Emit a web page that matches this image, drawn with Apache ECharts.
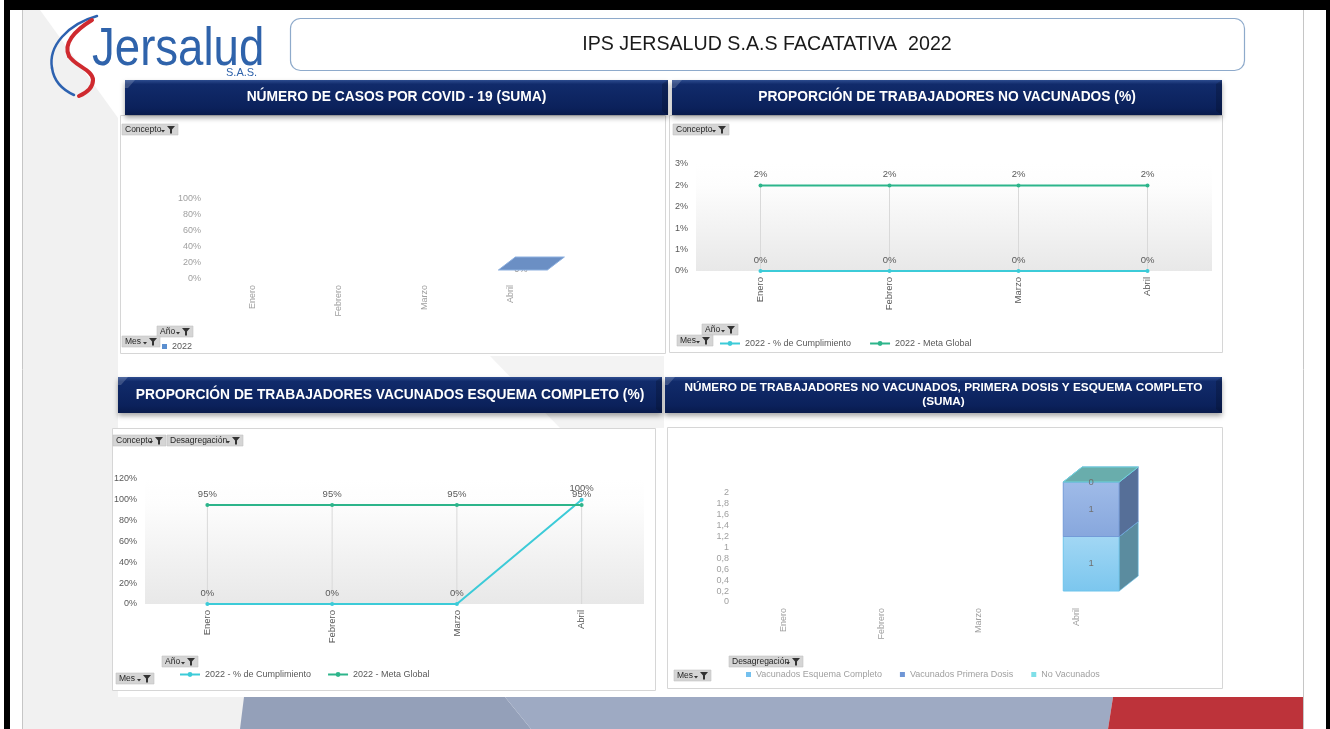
<!DOCTYPE html>
<html>
<head>
<meta charset="utf-8">
<script src="https://cdn.jsdelivr.net/npm/echarts/dist/echarts.min.js"></script>
<style>
  html, body { margin: 0; padding: 0; background: #ffffff; }
  #dash { width: 1330px; height: 729px; }
</style>
</head>
<body>
<div id="dash"></div>
<script>
// ---- data ----
const months = ['Enero', 'Febrero', 'Marzo', 'Abril'];

// Número de casos por COVID-19 (suma), serie 2022
const casosCovid = [null, null, null, 0];

// Proporción de trabajadores no vacunados (%)
const noVacCumplimiento = [0, 0, 0, 0];
const noVacMeta = [0.02, 0.02, 0.02, 0.02];

// Proporción de trabajadores vacunados esquema completo (%)
const esqCumplimiento = [0, 0, 0, 1];
const esqMeta = [0.95, 0.95, 0.95, 0.95];

// Número de trabajadores por desagregación (suma)
const vacEsquemaCompleto = [null, null, null, 1];
const vacPrimeraDosis = [null, null, null, 1];
const noVacunados = [null, null, null, 0];

const NAME_CUMP = '2022 - % de Cumplimiento';
const NAME_META = '2022 - Meta Global';
const NAME_ESQ = 'Vacunados Esquema Completo';
const NAME_PRIM = 'Vacunados Primera Dosis';
const NAME_NOVAC = 'No Vacunados';

// ---- styles ----
const FONT = '"Liberation Sans", Arial, sans-serif';
const C_CUMP = '#3ccbd8';
const C_META = '#2db58b';
const GREY_TXT = '#595959';
const LIGHT_TXT = '#a0a0a0';

const chart = echarts.init(document.getElementById('dash'), null, { renderer: 'canvas' });

const pct = v => Math.round(Math.round(v * 1000) / 10) + '%';
const dec = v => String(Math.round(v * 10) / 10).replace('.', ',');

const plotFill = new echarts.graphic.LinearGradient(0, 0, 0, 1, [
  { offset: 0, color: '#ffffff' },
  { offset: 0.2, color: '#fdfdfd' },
  { offset: 1, color: '#e8e8e8' }
]);

function catAxis(gridIndex, color, size) {
  return {
    type: 'category', gridIndex, data: months, boundaryGap: true,
    axisLine: { show: false }, axisTick: { show: false }, splitLine: { show: false },
    axisLabel: { rotate: 90, margin: 6, interval: 0, color, fontSize: size, fontFamily: FONT }
  };
}
function valAxis(gridIndex, max, interval, fmt, color, margin) {
  return {
    type: 'value', gridIndex, min: 0, max, interval,
    axisLine: { show: false }, axisTick: { show: false }, splitLine: { show: false },
    axisLabel: { formatter: fmt, color, fontSize: 9, fontFamily: FONT, margin }
  };
}

// vertical drop lines from the highest point of each month to the axis
function dropLineItem(params, api) {
  const top = api.coord([api.value(0), api.value(1)]);
  const bot = api.coord([api.value(0), 0]);
  return {
    type: 'line',
    shape: { x1: top[0], y1: top[1], x2: bot[0], y2: bot[1] },
    style: { stroke: '#d9d9d9', lineWidth: 1 }
  };
}

// 3D column segment: front face, side face and top face
function column3d(spec) {
  return function (params, api) {
    const i = api.value(0), v = api.value(1), base = api.value(2);
    const p0 = api.coord([i, base]);
    const p1 = api.coord([i, base + v]);
    const cx = p0[0] + spec.shiftX, hw = spec.width / 2;
    const yb = p0[1] - spec.lift, yt = p1[1] - spec.lift;
    const dx = spec.dx, dy = spec.dy;
    const kids = [];
    if (spec.labelBehind) {
      kids.push({ type: 'text', x: cx - 2, y: yb, style: { text: spec.fmt(v), font: '9px ' + FONT, fill: '#8c8c8c', align: 'center', verticalAlign: 'middle' } });
    }
    if (yb - yt > 0.5) {
      kids.push({
        type: 'rect', shape: { x: cx - hw, y: yt, width: 2 * hw, height: yb - yt },
        style: { fill: new echarts.graphic.LinearGradient(0, 0, 0, 1, [
          { offset: 0, color: spec.front[0] }, { offset: 1, color: spec.front[1] }]),
          stroke: spec.edge, lineWidth: 1 }
      });
      kids.push({
        type: 'polygon',
        shape: { points: [[cx + hw, yt], [cx + hw + dx, yt + dy], [cx + hw + dx, yb + dy], [cx + hw, yb]] },
        style: { fill: spec.side, stroke: spec.edge, lineWidth: 0.6 }
      });
    }
    kids.push({
      type: 'polygon',
      shape: { points: [[cx - hw, yt], [cx + hw, yt], [cx + hw + dx, yt + dy], [cx - hw + dx, yt + dy]] },
      style: { fill: spec.top, stroke: spec.edge, lineWidth: 1 }
    });
    if (!spec.labelBehind) {
      kids.push({ type: 'text', x: cx, y: (yb - yt > 0.5) ? (yb + yt) / 2 : yt,
        style: { text: spec.fmt(v), font: '9.5px ' + FONT, fill: '#707070', align: 'center', verticalAlign: 'middle' } });
    }
    return { type: 'group', children: kids };
  };
}

function stackData(vals, bases) {
  const out = [];
  vals.forEach((v, i) => { if (v !== null) out.push([i, v, bases[i]]); });
  return out;
}
const baseEsq = months.map(() => 0);
const basePrim = months.map((m, i) => vacEsquemaCompleto[i] || 0);
const baseNoVac = months.map((m, i) => (vacEsquemaCompleto[i] || 0) + (vacPrimeraDosis[i] || 0));

function lineSeries(name, data, color, axisIdx) {
  return {
    type: 'line', name, data, xAxisIndex: axisIdx, yAxisIndex: axisIdx, z: 3,
    color, symbol: 'circle', symbolSize: 4,
    lineStyle: { color, width: 2 }, itemStyle: { color },
    label: { show: true, position: 'top', distance: 4, formatter: p => pct(p.value),
      color: GREY_TXT, fontSize: 9.5, fontFamily: FONT },
    emphasis: { disabled: true }, animation: false
  };
}

// ---- static page elements ----
function rect(x, y, w, h, fill, extra) {
  return Object.assign({ type: 'rect', shape: { x, y, width: w, height: h }, style: { fill } }, extra || {});
}
function poly(points, fill, z) {
  return { type: 'polygon', shape: { points }, style: { fill }, z: z === undefined ? -20 : z, silent: true };
}
function txt(x, y, text, font, fill, align, extra) {
  return Object.assign({ type: 'text', x, y, z: 20,
    style: { text, font, fill, align: align || 'left', verticalAlign: 'middle' } }, extra || {});
}
function curve(p, color, width) {
  return { type: 'bezierCurve', z: 20,
    shape: { x1: p[0], y1: p[1], cpx1: p[2], cpy1: p[3], cpx2: p[4], cpy2: p[5], x2: p[6], y2: p[7] },
    style: { fill: null, stroke: color, lineWidth: width, lineCap: 'round' } };
}
function header(x, y, w, h, lines, size) {
  const kids = [
    { type: 'rect', shape: { x: 0, y: 0, width: w, height: h },
      style: { fill: new echarts.graphic.LinearGradient(0, 0, 0, 1, [
        { offset: 0, color: '#2d4c8f' }, { offset: 0.12, color: '#112b6b' },
        { offset: 0.8, color: '#0b215b' }, { offset: 1, color: '#081a4b' }]),
        shadowBlur: 5, shadowColor: 'rgba(0,0,0,0.35)', shadowOffsetY: 3 } },
    { type: 'polygon', shape: { points: [[0, 0], [10, 0], [3, 8], [0, 8]] }, style: { fill: 'rgba(255,255,255,0.18)' } },
    { type: 'polygon', shape: { points: [[w - 6, 4], [w, 0], [w, h], [w - 6, h - 4]] }, style: { fill: 'rgba(0,0,0,0.18)' } }
  ];
  const lh = size + 2;
  lines.forEach((t, k) => {
    kids.push({ type: 'text', x: w / 2, y: h / 2 + (k - (lines.length - 1) / 2) * lh,
      style: { text: t, font: 'bold ' + size + 'px ' + FONT, fill: '#ffffff', align: 'center', verticalAlign: 'middle' } });
  });
  return { type: 'group', x, y, z: 15, children: kids };
}
function filterBtn(x, y, w, label) {
  return {
    type: 'group', x, y, z: 20, children: [
      { type: 'rect', shape: { x: 0, y: 0, width: w, height: 11 }, style: { fill: '#d5d5d5', stroke: '#c2c2c2', lineWidth: 0.6 } },
      { type: 'text', x: 3, y: 5.8, style: { text: label, font: '8.5px ' + FONT, fill: '#262626', verticalAlign: 'middle' } },
      { type: 'polygon', shape: { points: [[w - 17, 6], [w - 13, 6], [w - 15, 8.5]] }, style: { fill: '#333' } },
      { type: 'polygon', shape: { points: [[w - 11, 2], [w - 3, 2], [w - 6, 5.5], [w - 6, 9.5], [w - 8, 9.5], [w - 8, 5.5]] }, style: { fill: '#333' } }
    ]
  };
}
function panel(x, y, w, h) {
  return rect(x, y, w, h, '#ffffff', { z: -10, style: { fill: '#ffffff', stroke: '#d6d6d6', lineWidth: 1 }, silent: true });
}

const graphics = [
  // frame
  rect(0, 0, 1330, 729, '#ffffff', { z: -40 }),
  rect(4, 0, 6, 729, '#000000', { z: -30 }),
  rect(4, 0, 1326, 10, '#000000', { z: -30 }),
  rect(1326, 0, 4, 729, '#000000', { z: -30 }),
  // slide background
  rect(23, 10, 1280, 719, '#ffffff', { z: -30 }),
  poly([[23, 10], [40, 10], [118, 118], [118, 697], [23, 697]], '#f1f1f1'),
  poly([[23, 697], [245, 697], [241, 729], [23, 729]], '#f1f1f1'),
  poly([[490, 356], [664, 356], [664, 428], [560, 428]], '#f3f3f3'),
  { type: 'line', shape: { x1: 22.5, y1: 10, x2: 22.5, y2: 729 }, style: { stroke: '#c6c6c6', lineWidth: 1 }, z: -15 },
  { type: 'line', shape: { x1: 1303.5, y1: 10, x2: 1303.5, y2: 729 }, style: { stroke: '#c6c6c6', lineWidth: 1 }, z: -15 },
  // bottom band
  poly([[244, 697], [505, 697], [531, 729], [240, 729]], '#94a0b9', -5),
  poly([[505, 697], [1113, 697], [1108, 729], [531, 729]], '#9eaac3', -5),
  poly([[1113, 697], [1303, 697], [1303, 729], [1108, 729]], '#bd333a', -5),

  // panels
  panel(120.5, 115.5, 545, 238),
  panel(669.5, 115.5, 553, 237),
  panel(112.5, 428.5, 543, 262),
  panel(667.5, 427.5, 555, 261),

  // logo
  curve([97, 16, 68, 24, 48, 46, 52, 68], '#2d62b0', 2.5),
  curve([52, 68, 54, 82, 63, 90, 74, 95], '#2d62b0', 2.5),
  curve([92, 20, 74, 31, 63, 44, 69, 56], '#cf2a2f', 4),
  curve([69, 56, 75, 66, 93, 70, 93, 80], '#cf2a2f', 4),
  curve([93, 80, 93, 88, 86, 93, 79, 96], '#cf2a2f', 4),
  txt(92, 50, 'Jersalud', '53px ' + FONT, '#2f63ab', 'left', { scaleX: 0.86 }),
  txt(226, 73, 'S.A.S.', '11px ' + FONT, '#2f63ab', 'left'),

  // title box
  { type: 'rect', z: 10, shape: { x: 290.5, y: 18.5, width: 954, height: 52, r: 10 },
    style: { fill: '#ffffff', stroke: '#8eaacb', lineWidth: 1.2 } },
  txt(767, 44, 'IPS JERSALUD S.A.S FACATATIVA  2022', '21px ' + FONT, '#1a1a1a', 'center', { scaleX: 0.935 }),

  // section headers
  header(125, 80, 543, 35, ['NÚMERO DE CASOS POR COVID - 19 (SUMA)'], 13.8),
  header(672, 80, 550, 35, ['PROPORCIÓN DE TRABAJADORES NO VACUNADOS (%)'], 13.8),
  header(118, 377, 544, 36, ['PROPORCIÓN DE TRABAJADORES VACUNADOS ESQUEMA COMPLETO (%)'], 13.8),
  header(665, 377, 557, 36, ['NÚMERO DE TRABAJADORES NO VACUNADOS, PRIMERA DOSIS Y ESQUEMA COMPLETO', '(SUMA)'], 11.8),

  // pivot filter buttons
  filterBtn(122, 124, 56, 'Concepto'),
  filterBtn(157, 326, 36, 'Año'),
  filterBtn(122, 336, 38, 'Mes'),
  filterBtn(673, 124, 56, 'Concepto'),
  filterBtn(702, 324, 36, 'Año'),
  filterBtn(677, 335, 36, 'Mes'),
  filterBtn(113, 435, 53, 'Concepto'),
  filterBtn(167, 435, 76, 'Desagregación'),
  filterBtn(162, 656, 36, 'Año'),
  filterBtn(116, 673, 38, 'Mes'),
  filterBtn(729, 656, 74, 'Desagregación'),
  filterBtn(674, 670, 37, 'Mes')
];

const legendText = { color: GREY_TXT, fontSize: 9, fontFamily: FONT };

const option = {
  animation: false,
  backgroundColor: '#ffffff',
  graphic: { elements: graphics },
  grid: [
    { left: 209, top: 199, width: 345, height: 80 },
    { left: 696, top: 164, width: 516, height: 107, show: true, borderWidth: 0, backgroundColor: plotFill },
    { left: 145, top: 479, width: 499, height: 125, show: true, borderWidth: 0, backgroundColor: plotFill },
    { left: 735, top: 493, width: 390, height: 109 }
  ],
  xAxis: [
    catAxis(0, LIGHT_TXT, 9),
    catAxis(1, GREY_TXT, 9.5),
    catAxis(2, GREY_TXT, 9.5),
    catAxis(3, LIGHT_TXT, 9)
  ],
  yAxis: [
    valAxis(0, 1, 0.2, pct, LIGHT_TXT, 8),
    valAxis(1, 0.025, 0.005, pct, GREY_TXT, 8),
    valAxis(2, 1.2, 0.2, pct, GREY_TXT, 8),
    valAxis(3, 2, 0.2, dec, LIGHT_TXT, 6)
  ],
  legend: [
    { data: ['2022'], left: 162, top: 342, padding: 0, icon: 'rect', itemWidth: 5, itemHeight: 5, textStyle: legendText, selectedMode: false },
    { data: [NAME_CUMP, NAME_META], left: 719, top: 339, padding: 0, itemWidth: 20, itemHeight: 6, itemGap: 18, textStyle: legendText, selectedMode: false },
    { data: [NAME_CUMP, NAME_META], left: 179, top: 670, padding: 0, itemWidth: 20, itemHeight: 6, itemGap: 16, textStyle: legendText, selectedMode: false },
    { data: [NAME_ESQ, NAME_PRIM, NAME_NOVAC], left: 746, top: 670, padding: 0, icon: 'rect', itemWidth: 5, itemHeight: 5, itemGap: 18, textStyle: { color: LIGHT_TXT, fontSize: 9, fontFamily: FONT }, selectedMode: false }
  ],
  series: [
    // COVID-19 cases
    { type: 'custom', name: '2022', xAxisIndex: 0, yAxisIndex: 0,
      itemStyle: { color: '#5b8fcf' },
      data: stackData(casosCovid, baseEsq), encode: { x: 0, y: 1 },
      renderItem: column3d({ width: 49, shiftX: 12, lift: 9, dx: 17, dy: -13,
        front: ['#6d92c6', '#5f86bf'], side: '#4e6f9f', top: '#6b8fc4', edge: '#8db0e0', fmt: pct, labelBehind: true }) },

    // Unvaccinated workers (%)
    { type: 'custom', name: 'drop-nv', xAxisIndex: 1, yAxisIndex: 1, z: 1, silent: true,
      data: months.map((m, i) => [i, Math.max(noVacCumplimiento[i], noVacMeta[i])]), encode: { x: 0, y: 1 },
      renderItem: dropLineItem },
    lineSeries(NAME_CUMP, noVacCumplimiento, C_CUMP, 1),
    lineSeries(NAME_META, noVacMeta, C_META, 1),

    // Fully vaccinated workers (%)
    { type: 'custom', name: 'drop-esq', xAxisIndex: 2, yAxisIndex: 2, z: 1, silent: true,
      data: months.map((m, i) => [i, Math.max(esqCumplimiento[i], esqMeta[i])]), encode: { x: 0, y: 1 },
      renderItem: dropLineItem },
    lineSeries(NAME_CUMP, esqCumplimiento, C_CUMP, 2),
    lineSeries(NAME_META, esqMeta, C_META, 2),

    // Worker counts by breakdown (stacked 3D columns)
    { type: 'custom', name: NAME_ESQ, xAxisIndex: 3, yAxisIndex: 3, itemStyle: { color: '#74c0ee' },
      data: stackData(vacEsquemaCompleto, baseEsq), encode: { x: 0, y: 1 },
      renderItem: column3d({ width: 56, shiftX: 15, lift: 11, dx: 19, dy: -15,
        front: ['#a2d7f4', '#7bc6ee'], side: '#5b8c9f', top: '#7fc0d4', edge: '#6cc4ec', fmt: dec }) },
    { type: 'custom', name: NAME_PRIM, xAxisIndex: 3, yAxisIndex: 3, itemStyle: { color: '#6f96d6' },
      data: stackData(vacPrimeraDosis, basePrim), encode: { x: 0, y: 1 },
      renderItem: column3d({ width: 56, shiftX: 15, lift: 11, dx: 19, dy: -15,
        front: ['#9fbbe8', '#87a7dd'], side: '#566f98', top: '#8aa8d8', edge: '#739bd8', fmt: dec }) },
    { type: 'custom', name: NAME_NOVAC, xAxisIndex: 3, yAxisIndex: 3, itemStyle: { color: '#7fdfe8' },
      data: stackData(noVacunados, baseNoVac), encode: { x: 0, y: 1 },
      renderItem: column3d({ width: 56, shiftX: 15, lift: 11, dx: 19, dy: -15,
        front: ['#7fdfe8', '#7fdfe8'], side: '#5a9ea0', top: '#69adac', edge: '#6fd6de', fmt: dec }) }
  ]
};

chart.setOption(option);
</script>
</body>
</html>
